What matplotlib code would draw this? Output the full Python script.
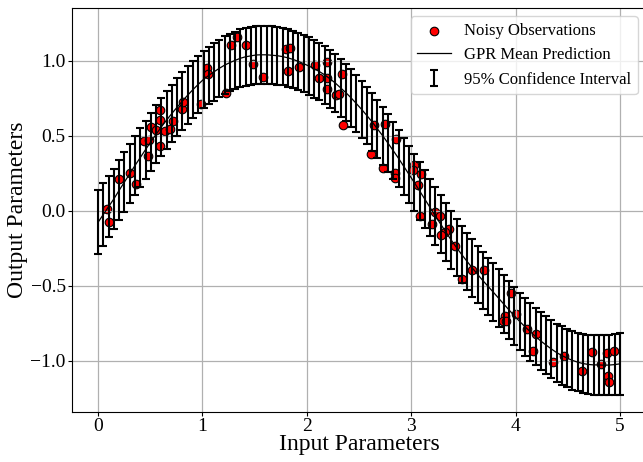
import numpy as np
import matplotlib
matplotlib.use("Agg")
import matplotlib.pyplot as plt

plt.rcParams['font.family'] = ['Liberation Serif', 'DejaVu Serif']

# Noisy observations
obs_x = [0.09, 0.108, 0.20, 0.306, 0.36, 0.44, 0.485, 0.48, 0.51, 0.555,
         0.597, 0.597, 0.594, 0.645, 0.693, 0.718, 0.805, 0.81, 0.983, 1.047,
         1.054, 1.223, 1.27, 1.328, 1.418, 1.482, 1.578, 1.80, 1.842, 1.823,
         1.922, 2.08, 2.12, 2.193, 2.193, 2.193, 2.333, 2.282, 2.308, 2.35,
         2.644, 2.746, 2.854, 2.615, 2.726, 2.845, 2.845, 3.027, 3.013, 3.094,
         3.062, 3.087, 3.231, 3.273, 3.199, 3.362, 3.327, 3.285, 3.416, 3.49,
         3.58, 3.695, 3.96, 4.0, 3.898, 3.882, 3.91, 4.11, 4.195, 4.163,
         4.355, 4.464, 4.633, 4.729, 4.82, 4.88, 4.943, 4.887, 4.897]
obs_y = [0.01, -0.073, 0.211, 0.255, 0.18, 0.467, 0.471, 0.369, 0.56, 0.538,
         0.435, 0.607, 0.671, 0.533, 0.549, 0.60, 0.68, 0.729, 0.716, 0.955,
         0.915, 0.787, 1.105, 1.16, 1.107, 0.978, 0.893, 1.08, 1.087, 0.931,
         0.962, 0.975, 0.889, 0.993, 0.887, 0.815, 0.915, 0.771, 0.782, 0.575,
         0.573, 0.578, 0.478, 0.378, 0.287, 0.255, 0.218, 0.307, 0.275, 0.246,
         0.171, -0.031, -0.009, -0.031, -0.087, -0.12, -0.138, -0.158, -0.231, -0.455,
         -0.395, -0.395, -0.547, -0.689, -0.70, -0.735, -0.735, -0.785, -0.818, -0.933,
         -1.007, -0.969, -1.065, -0.942, -1.02, -0.949, -0.933, -1.098, -1.138]

# GPR prediction grid (100 points from 0 to 5)
pred_x = np.linspace(0, 5, 100)
pred_mean = [-0.075, -0.023, 0.029, 0.081, 0.138, 0.193, 0.248, 0.303, 0.356, 0.409,
             0.461, 0.511, 0.560, 0.606, 0.650, 0.692, 0.733, 0.772, 0.809, 0.844,
             0.877, 0.904, 0.928, 0.951, 0.972, 0.989, 1.004, 1.018, 1.028, 1.034,
             1.040, 1.041, 1.041, 1.038, 1.035, 1.029, 1.021, 1.010, 0.997, 0.982,
             0.966, 0.948, 0.929, 0.907, 0.881, 0.853, 0.821, 0.789, 0.754, 0.716,
             0.677, 0.636, 0.593, 0.547, 0.501, 0.452, 0.402, 0.351, 0.297, 0.243,
             0.189, 0.134, 0.078, 0.022, -0.034, -0.088, -0.142, -0.194, -0.244, -0.291,
             -0.336, -0.380, -0.423, -0.464, -0.503, -0.542, -0.582, -0.622, -0.661, -0.700,
             -0.737, -0.772, -0.805, -0.837, -0.867, -0.894, -0.920, -0.944, -0.964, -0.981,
             -0.996, -1.008, -1.017, -1.023, -1.026, -1.026, -1.028, -1.027, -1.024, -1.019]
ci_half = [0.215, 0.208, 0.204, 0.201, 0.199, 0.197, 0.196, 0.195, 0.194, 0.193,
           0.193, 0.193, 0.192, 0.192, 0.192, 0.192, 0.192, 0.192, 0.192, 0.192,
           0.192, 0.192, 0.192, 0.192, 0.192, 0.192, 0.192, 0.192, 0.192, 0.192,
           0.192, 0.192, 0.192, 0.192, 0.192, 0.192, 0.192, 0.192, 0.192, 0.192,
           0.192, 0.192, 0.192, 0.192, 0.192, 0.192, 0.192, 0.192, 0.192, 0.192,
           0.192, 0.192, 0.192, 0.192, 0.192, 0.192, 0.192, 0.192, 0.192, 0.192,
           0.192, 0.192, 0.192, 0.192, 0.192, 0.192, 0.192, 0.192, 0.192, 0.192,
           0.192, 0.192, 0.192, 0.192, 0.192, 0.192, 0.192, 0.192, 0.192, 0.192,
           0.192, 0.192, 0.192, 0.192, 0.193, 0.193, 0.193, 0.193, 0.194, 0.194,
           0.195, 0.195, 0.196, 0.197, 0.198, 0.199, 0.200, 0.201, 0.203, 0.205]

fig = plt.figure(figsize=(6.43, 4.62), dpi=100)
ax = fig.add_axes([72 / 643, 50 / 462, 574 / 643, 404 / 462])

ax.scatter(obs_x, obs_y, s=38, c='red', edgecolors='black', linewidths=0.8,
           label='Noisy Observations')
ax.plot(pred_x, pred_mean, color='black', lw=0.9, label='GPR Mean Prediction')
ax.errorbar(pred_x, pred_mean, yerr=ci_half, fmt='none', ecolor='black',
            elinewidth=1.5, capsize=3, capthick=1.5, label='95% Confidence Interval')

ax.set_xlim(-0.25, 5.25)
ax.set_ylim(-1.34, 1.353)
ax.set_xticks([0, 1, 2, 3, 4, 5])
ax.set_yticks([-1.0, -0.5, 0.0, 0.5, 1.0])
ax.tick_params(labelsize=14, length=3, pad=1.5)
ax.set_xlabel('Input Parameters', fontsize=17, labelpad=-1)
ax.set_ylabel('Output Parameters', fontsize=17, labelpad=2)
ax.grid(True, color='#b0b0b0', lw=0.9)
ax.legend(loc='upper right', fontsize=12)

fig.savefig('out.png', dpi=100)
